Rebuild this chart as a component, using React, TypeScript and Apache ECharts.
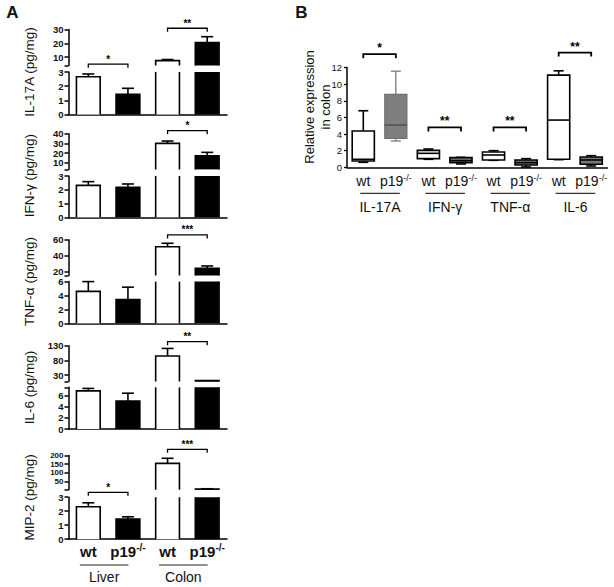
import { useEffect, useRef } from 'react';
import * as echarts from 'echarts';

const FONT = 'Arial, "Liberation Sans", Helvetica, sans-serif';

// ---------- Panel A data ----------
const categoriesA = ['wt', 'p19-/-', 'wt', 'p19-/-'];
const tissueGroups = ['Liver', 'Colon'];
const yTitlesA = ['IL-17A (pg/mg)', 'IFN-γ (pg/mg)', 'TNF-α (pg/mg)', 'IL-6 (pg/mg)', 'MIP-2 (pg/mg)'];

const il17aMean = [2.67, 1.43, 7.5, 20.5];
const il17aSem = [0.19, 0.42, 0.8, 4.3];
const ifngMean = [2.32, 2.18, 30.1, 17.2];
const ifngSem = [0.27, 0.24, 2.4, 3.5];
const tnfaMean = [4.6, 3.4, 51.2, 24.0];
const tnfaSem = [1.4, 1.8, 4.3, 3.0];
const il6Mean = [6.85, 5.04, 95, 11];
const il6Sem = [0.45, 1.4, 26, 0];
const mip2Mean = [2.32, 1.44, 155, 8];
const mip2Sem = [0.28, 0.16, 29, 1];

const meansA = [il17aMean, ifngMean, tnfaMean, il6Mean, mip2Mean];
const semsA = [il17aSem, ifngSem, tnfaSem, il6Sem, mip2Sem];
const barFills = ['#ffffff', '#000000', '#ffffff', '#000000'];

// broken y axes (lower segment 0..lowerMax, upper segment upperMin..upperMax)
const lowerMax = [3, 3, 6, 7.5, 3];
const upperMin = [4, 3, 15, 7.5, 3];
const upperMax = [30, 40, 60, 130, 200];
const lowerTickLabels = [[0, 1, 2, 3], [0, 1, 2, 3], [0, 2, 4, 6], [0, 2, 4, 6], [0, 1, 2, 3]];
const upperTickLabels = [[10, 20, 30], [10, 20, 30, 40], [20, 40, 60], [30, 80, 130], [50, 100, 150, 200]];

// significance brackets in panel A
const sigPanel = [0, 0, 1, 2, 3, 4, 4];
const sigUpper = [false, true, true, true, true, false, true];
const sigFrom = [0, 2, 2, 2, 2, 0, 2];
const sigTo = [1, 3, 3, 3, 3, 1, 3];
const sigHeight = [3.55, 30.9, 43.2, 66, 144, 3.35, 235.6];
const sigStars = ['*', '**', '*', '***', '**', '*', '***'];

// ---------- Panel B data ----------
const categoriesB = ['wt', 'p19-/-', 'wt', 'p19-/-', 'wt', 'p19-/-', 'wt', 'p19-/-'];
const genesB = ['IL-17A', 'IFN-γ', 'TNF-α', 'IL-6'];
const boxMin = [0.6, 3.16, 0.96, 0.4, 0.84, 0.04, 0.92, 0.16];
const boxQ1 = [0.76, 3.48, 1.04, 0.56, 0.88, 0.28, 0.96, 0.36];
const boxMedian = [0.96, 5.08, 1.68, 0.8, 1.48, 0.56, 5.68, 0.88];
const boxQ3 = [4.36, 8.76, 2.04, 1.16, 1.84, 0.88, 11.08, 1.24];
const boxMax = [6.8, 11.56, 2.2, 1.2, 2.0, 1.04, 11.6, 1.4];
const boxFill = ['#ffffff', '#7f7f7f', '#ffffff', '#7a7a7a', '#ffffff', '#7a7a7a', '#ffffff', '#7a7a7a'];
const boxStroke = ['#000', '#707070', '#000', '#000', '#000', '#000', '#000', '#000'];
const sigBFrom = [0, 2, 4, 6];
const sigBTo = [1, 3, 5, 7];
const sigBHeight = [13.6, 4.8, 4.8, 13.8];
const sigBStars = ['*', '**', '**', '**'];

// ---------- layout ----------
const A_LEFT = 68.5;
const A_WIDTH = 158.5;
const segUpperTop = [29.5, 133.8, 239.7, 345.8, 455.5];
const segUpperBottom = [65.5, 169.4, 275.5, 381.6, 489.8];
const segLowerTop = [72, 176, 281.6, 387.3, 497.2];
const segLowerBottom = [114.5, 217.3, 323.3, 429, 539.2];
const B_LEFT = 347;
const B_WIDTH = 260.5;
const B_TOP = 67.5;
const B_BOTTOM = 167.3;

const supFormatter = (v: string) =>
  v.endsWith('-/-') ? `{m|${v.slice(0, -3)}}{s|-/-}` : `{m|${v}}`;

function makeBarRender(p: number, upper: boolean) {
  return (_params: any, api: any) => {
    const ci = api.value(0) as number;
    const v = api.value(1) as number;
    const sem = api.value(2) as number;
    const lo = upper ? upperMin[p] : 0;
    const hi = upper ? upperMax[p] : lowerMax[p];
    if (v <= lo) return null;
    const band = api.size([1, 0])[0];
    const w = band * 0.6;
    const cx = api.coord([ci, lo])[0];
    const yb = api.coord([ci, lo])[1];
    const openTop = v > hi;
    const yt = api.coord([ci, Math.min(v, hi)])[1];
    const x0 = cx - w / 2;
    const x1 = cx + w / 2;
    const st = { stroke: '#000', lineWidth: 1.6, fill: null };
    const children: any[] = [
      { type: 'rect', shape: { x: x0, y: yt, width: w, height: yb - yt }, style: { fill: barFills[ci], stroke: null } },
    ];
    if (openTop) {
      children.push({ type: 'line', shape: { x1: x0, y1: yb, x2: x0, y2: yt }, style: st });
      children.push({ type: 'line', shape: { x1: x1, y1: yb, x2: x1, y2: yt }, style: st });
    } else {
      children.push({ type: 'polyline', shape: { points: [[x0, yb], [x0, yt], [x1, yt], [x1, yb]] }, style: st });
      if (sem > 0) {
        const ye = api.coord([ci, Math.min(v + sem, hi)])[1];
        children.push({ type: 'line', shape: { x1: cx, y1: yt, x2: cx, y2: ye }, style: st });
        children.push({ type: 'line', shape: { x1: cx - 6, y1: ye, x2: cx + 6, y2: ye }, style: st });
      }
    }
    return { type: 'group', children };
  };
}

function makeBracketRender(stars: string[], tick: number, lw: number, fontSize: number, gap: number) {
  return (params: any, api: any) => {
    const a = api.coord([api.value(0), api.value(2)]);
    const b = api.coord([api.value(1), api.value(2)]);
    return {
      type: 'group',
      children: [
        {
          type: 'polyline',
          shape: { points: [[a[0], a[1] + tick], [a[0], a[1]], [b[0], b[1]], [b[0], b[1] + tick]] },
          style: { stroke: '#000', lineWidth: lw, fill: null },
        },
        {
          type: 'text',
          style: {
            text: stars[params.dataIndex], x: (a[0] + b[0]) / 2, y: a[1] - gap,
            align: 'center', verticalAlign: 'middle', fontSize, fontWeight: 'bold', fontFamily: FONT, fill: '#000',
          },
        },
      ],
    };
  };
}

function boxRender(_params: any, api: any) {
  const ci = api.value(0) as number;
  const mn = api.value(1), q1 = api.value(2), md = api.value(3), q3 = api.value(4), mx = api.value(5);
  const band = api.size([1, 0])[0];
  const w = band * 0.68;
  const cap = 10;
  const cx = api.coord([ci, 0])[0];
  const y = (v: number) => api.coord([ci, v])[1];
  const stroke = boxStroke[ci];
  const lw = ci === 1 ? 1.2 : 1.6;
  const st = { stroke, lineWidth: lw, fill: null };
  return {
    type: 'group',
    children: [
      { type: 'line', shape: { x1: cx, y1: y(q3), x2: cx, y2: y(mx) }, style: st },
      { type: 'line', shape: { x1: cx, y1: y(q1), x2: cx, y2: y(mn) }, style: st },
      { type: 'line', shape: { x1: cx - cap / 2, y1: y(mx), x2: cx + cap / 2, y2: y(mx) }, style: st },
      { type: 'line', shape: { x1: cx - cap / 2, y1: y(mn), x2: cx + cap / 2, y2: y(mn) }, style: st },
      { type: 'rect', shape: { x: cx - w / 2, y: y(q3), width: w, height: y(q1) - y(q3) }, style: { fill: boxFill[ci], stroke, lineWidth: lw } },
      { type: 'line', shape: { x1: cx - w / 2, y1: y(md), x2: cx + w / 2, y2: y(md) }, style: { stroke: ci === 1 ? '#444' : '#000', lineWidth: lw } },
    ],
  };
}

function buildOption() {
  const grids: any[] = [];
  const xAxes: any[] = [];
  const yAxes: any[] = [];
  const series: any[] = [];
  const axisLine = { show: true, lineStyle: { color: '#000', width: 1.5 } };
  const richA = {
    m: { fontSize: 15, fontWeight: 'bold', fontFamily: FONT, color: '#111', lineHeight: 18 },
    s: { fontSize: 10, fontWeight: 'bold', fontFamily: FONT, color: '#111', verticalAlign: 'top', lineHeight: 8 },
  };
  const richB = {
    m: { fontSize: 14, fontFamily: FONT, color: '#111', lineHeight: 16 },
    s: { fontSize: 9, fontFamily: FONT, color: '#111', verticalAlign: 'top', lineHeight: 6 },
  };

  for (let p = 0; p < 5; p++) {
    for (const upper of [false, true]) {
      const g = grids.length;
      const top = upper ? segUpperTop[p] : segLowerTop[p];
      const bottom = upper ? segUpperBottom[p] : segLowerBottom[p];
      grids.push({ left: A_LEFT, top, width: A_WIDTH, height: bottom - top, containLabel: false, outerBoundsMode: 'none' });
      xAxes.push({
        gridIndex: g, type: 'category', data: categoriesA, show: !upper,
        axisLine, axisTick: { show: false },
        axisLabel: { show: !upper && p === 4, interval: 0, margin: 3, formatter: supFormatter, rich: richA },
        splitLine: { show: false },
      });
      const min = upper ? upperMin[p] : 0;
      const max = upper ? upperMax[p] : lowerMax[p];
      const labels = upper ? upperTickLabels[p] : lowerTickLabels[p];
      const ticks = upper ? [min, ...labels] : (labels.includes(max) ? labels : [...labels, max]);
      const spacing = (bottom - top) / (max - min) * (labels[1] - labels[0]);
      const fs = spacing < 9 ? 8 : 9.5;
      const labelStyleA = {
        fontSize: fs, lineHeight: Math.min(9, fs), fontWeight: 'bold', color: '#111', fontFamily: FONT, margin: 5,
        hideOverlap: false, showMinLabel: true, showMaxLabel: true,
      };
      // two label sets on the same axis position so closely spaced labels are all kept
      const setA = labels.filter((_, i) => i % 2 === 0);
      const setB = labels.filter((_, i) => i % 2 === 1);
      const yi = yAxes.length;
      yAxes.push({
        gridIndex: g, type: 'value', min, max, position: 'left', offset: 0,
        axisLine,
        axisTick: { show: true, length: 4, lineStyle: { color: '#000', width: 1.5 }, customValues: ticks },
        axisLabel: { customValues: setA, ...labelStyleA },
        splitLine: { show: false },
      });
      yAxes.push({
        gridIndex: g, type: 'value', min, max, position: 'left', offset: 0,
        axisLine: { show: false }, axisTick: { show: false },
        axisLabel: { customValues: setB, ...labelStyleA },
        splitLine: { show: false },
      });
      series.push({
        type: 'custom', xAxisIndex: g, yAxisIndex: yi, silent: true, z: 2,
        renderItem: makeBarRender(p, upper),
        encode: { x: 0, y: 1 },
        data: meansA[p].map((m, i) => [i, m, semsA[p][i]]),
      });
      const idx = sigPanel.map((_sp, i) => i).filter((i) => sigPanel[i] === p && sigUpper[i] === upper);
      if (idx.length) {
        series.push({
          type: 'custom', xAxisIndex: g, yAxisIndex: yi, silent: true, z: 3,
          renderItem: makeBracketRender(idx.map((i) => sigStars[i]), 3.5, 1.3, 10, 5),
          encode: { x: [0, 1], y: 2 },
          data: idx.map((i) => [sigFrom[i], sigTo[i], sigHeight[i]]),
        });
      }
    }
  }

  // Panel B
  const gB = grids.length;
  const yB = yAxes.length;
  grids.push({ left: B_LEFT, top: B_TOP, width: B_WIDTH, height: B_BOTTOM - B_TOP, containLabel: false, outerBoundsMode: 'none' });
  xAxes.push({
    gridIndex: gB, type: 'category', data: categoriesB,
    axisLine, axisTick: { show: false },
    axisLabel: { interval: 0, margin: 6, formatter: supFormatter, rich: richB },
    splitLine: { show: false },
  });
  yAxes.push({
    gridIndex: gB, type: 'value', min: 0, max: 12, interval: 2, position: 'left',
    axisLine,
    axisTick: { show: true, length: 3, lineStyle: { color: '#000', width: 1.3 } },
    axisLabel: { fontSize: 9.5, color: '#111', fontFamily: FONT, margin: 5, hideOverlap: false },
    splitLine: { show: false },
  });
  series.push({
    type: 'custom', xAxisIndex: gB, yAxisIndex: yB, silent: true, z: 2,
    renderItem: boxRender,
    encode: { x: 0, y: [1, 2, 3, 4, 5] },
    data: categoriesB.map((_, i) => [i, boxMin[i], boxQ1[i], boxMedian[i], boxQ3[i], boxMax[i]]),
  });
  series.push({
    type: 'custom', xAxisIndex: gB, yAxisIndex: yB, silent: true, z: 3,
    renderItem: makeBracketRender(sigBStars, 4, 1.8, 12, 6),
    encode: { x: [0, 1], y: 2 },
    data: sigBFrom.map((f, i) => [f, sigBTo[i], sigBHeight[i]]),
  });

  // annotations
  const graphic: any[] = [];
  const txt = (text: string, x: number, y: number, size: number, bold: boolean, rotation = 0, extra: any = {}) => ({
    type: 'text', x, y, rotation, silent: true,
    style: { text, align: 'center', verticalAlign: 'middle', fontSize: size, fontWeight: bold ? 'bold' : 'normal', fontFamily: FONT, fill: '#111', ...extra },
  });
  graphic.push(txt('A', 12.5, 12.5, 17, true));
  graphic.push(txt('B', 301.5, 12.5, 17, true));
  for (let p = 0; p < 5; p++) {
    graphic.push(txt(yTitlesA[p], 29, (segUpperTop[p] + segLowerBottom[p]) / 2, 13.5, false, Math.PI / 2));
  }
  graphic.push(txt('Relative expression\nin colon', 317, 107, 13, false, Math.PI / 2, { lineHeight: 16 }));

  const bandA = A_WIDTH / categoriesA.length;
  const cA = (i: number) => A_LEFT + bandA * (i + 0.5);
  tissueGroups.forEach((name, gi) => {
    const x0 = cA(gi * 2) - 8.5;
    const x1 = cA(gi * 2 + 1) + 0.5;
    graphic.push({ type: 'line', silent: true, shape: { x1: x0, y1: 565, x2: x1, y2: 565 }, style: { stroke: '#222', lineWidth: 1 } });
    graphic.push(txt(name, (x0 + x1) / 2, 577, 14, false));
  });
  const bandB = B_WIDTH / categoriesB.length;
  const cB = (i: number) => B_LEFT + bandB * (i + 0.5);
  genesB.forEach((name, gi) => {
    const x0 = cB(gi * 2) - 3;
    const x1 = cB(gi * 2 + 1) + 4;
    graphic.push({ type: 'line', silent: true, shape: { x1: x0, y1: 193.3, x2: x1, y2: 193.3 }, style: { stroke: '#333', lineWidth: 1.2 } });
    graphic.push(txt(name, (x0 + x1) / 2, 207, 14, false));
  });

  return {
    animation: false,
    backgroundColor: '#fff',
    grid: grids,
    xAxis: xAxes,
    yAxis: yAxes,
    series,
    graphic,
  };
}

export default function App() {
  const ref = useRef<HTMLDivElement>(null);
  useEffect(() => {
    if (!ref.current) return;
    const chart = echarts.init(ref.current, null, { renderer: 'svg' });
    chart.setOption(buildOption() as any);
    return () => chart.dispose();
  }, []);
  return (
    <div
      ref={ref}
      style={{ position: 'absolute', left: 0, top: 0, width: 614, height: 587, background: '#fff' }}
    />
  );
}
